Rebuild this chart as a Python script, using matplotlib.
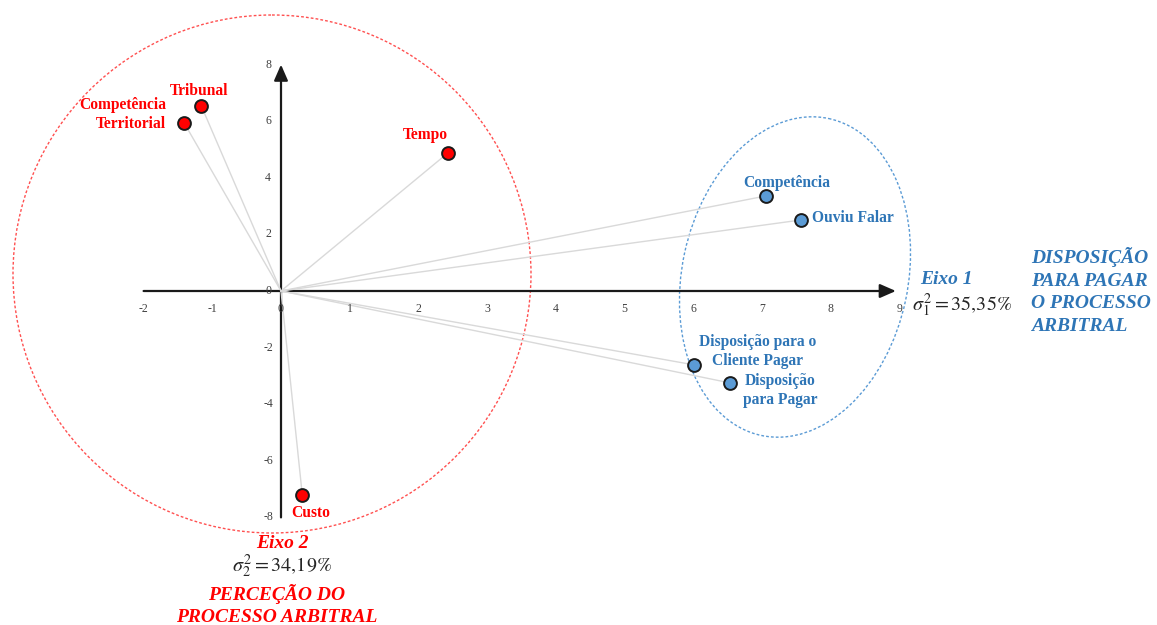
import matplotlib
matplotlib.use('Agg')
import matplotlib.pyplot as plt
from matplotlib.patches import Ellipse, FancyArrowPatch
from matplotlib.transforms import Affine2D

# --- data -------------------------------------------------------------
red_labels = ['Tribunal', 'Competência\nTerritorial', 'Tempo', 'Custo']
red_x = [-1.16, -1.41, 2.43, 0.31]
red_y = [6.54, 5.94, 4.88, -7.21]

blue_labels = ['Competência', 'Ouviu Falar',
               'Disposição para o\nCliente Pagar', 'Disposição\npara Pagar']
blue_x = [7.06, 7.57, 6.01, 6.54]
blue_y = [3.36, 2.51, -2.61, -3.25]

x_ticks = [-2, -1, 0, 1, 2, 3, 4, 5, 6, 7, 8, 9]
y_ticks = [-8, -6, -4, -2, 0, 2, 4, 6, 8]

var_axis1 = '35{,}35'
var_axis2 = '34{,}19'

# --- layout -----------------------------------------------------------
W, H = 1157, 625
X0, Y0 = 281, 291          # origin position (pixels from top-left)
SX, SY = 68.7, 28.3        # pixels per unit on each axis

RED = '#FF0000'
BLUE = '#2E75B6'
BLUE_FILL = '#5B9BD5'
SERIF = ['Liberation Serif', 'DejaVu Serif']

plt.rcParams['mathtext.fontset'] = 'stix'

fig = plt.figure(figsize=(W / 100, H / 100), dpi=100)
ax = fig.add_axes([0, 0, 1, 1])
ax.set_xlim(-X0 / SX, (W - X0) / SX)
ax.set_ylim((Y0 - H) / SY, Y0 / SY)
ax.axis('off')

# pixel-space helper (y downwards) for the grouping outlines and titles
pix = Affine2D().translate(-X0, -Y0).scale(1 / SX, -1 / SY) + ax.transData

# grouping outlines
ax.add_patch(Ellipse((272, 274), 2 * 259, 2 * 259, transform=pix, fill=False,
                     ec='#FF5050', lw=1.0, ls=(0, (2, 1.5)), zorder=1))
ax.add_patch(Ellipse((795, 277), 2 * 113, 2 * 162, angle=12, transform=pix,
                     fill=False, ec='#5B9BD5', lw=1.0, ls=(0, (2, 1.5)), zorder=1))

# axes with arrow heads
axis_kw = dict(arrowstyle='-|>,head_length=0.8,head_width=0.35',
               color='#1A1A1A', lw=1.6, mutation_scale=12,
               shrinkA=0, shrinkB=0, zorder=2)
ax.add_patch(FancyArrowPatch((x_ticks[0], 0), (x_ticks[-1] - 0.05, 0), **axis_kw))
ax.add_patch(FancyArrowPatch((0, y_ticks[0]), (0, y_ticks[-1]), **axis_kw))

tick_kw = dict(fontsize=8.5, color='#404040', family=SERIF)
for v in x_ticks:
    ax.annotate(str(v), (v, 0), xytext=(0, -18), textcoords='offset pixels',
                ha='center', va='center', **tick_kw)
for v in y_ticks:
    ax.annotate(str(v), (0, v), xytext=(-13, 0), textcoords='offset pixels',
                ha='center', va='center', **tick_kw)

# spokes from the origin
for xs, ys in ((red_x, red_y), (blue_x, blue_y)):
    for x, y in zip(xs, ys):
        ax.plot([0, x], [0, y], color='#D9D9D9', lw=1.0, zorder=2)

# points
ax.scatter(red_x, red_y, s=85, c=RED, edgecolors='#1A1A1A', linewidths=1.4, zorder=4)
ax.scatter(blue_x, blue_y, s=85, c=BLUE_FILL, edgecolors='#1A1A1A', linewidths=1.4, zorder=4)

lab_kw = dict(fontsize=11.2, fontweight='bold', family=SERIF,
              textcoords='offset pixels', linespacing=1.25, zorder=5)
red_off = [(-2, 15, 'center'), (-18, 8, 'right'), (-23, 18, 'center'), (8, -18, 'center')]
blue_off = [(21, 13, 'center'), (11, 2, 'left'), (64, 13, 'center'), (50, -8, 'center')]
for lab, x, y, (dx, dy, ha) in zip(red_labels, red_x, red_y, red_off):
    ax.annotate(lab, (x, y), xytext=(dx, dy), ha=ha, va='center',
                multialignment=ha, color=RED, **lab_kw)
for lab, x, y, (dx, dy, ha) in zip(blue_labels, blue_x, blue_y, blue_off):
    ax.annotate(lab, (x, y), xytext=(dx, dy), ha=ha, va='center',
                multialignment=ha, color=BLUE, **lab_kw)

# axis titles and explained variance
ttl_kw = dict(fontsize=14, fontweight='bold', style='italic', family=SERIF,
              transform=pix, linespacing=1.45)
ax.text(946, 280, 'Eixo 1', ha='center', va='center', color=BLUE, **ttl_kw)
ax.text(962, 305, r'$\sigma_1^2 = %s\%%$' % var_axis1, ha='center', va='center',
        fontsize=14.5, color='#262626', transform=pix)
ax.text(1031, 291, 'DISPOSIÇÃO\nPARA PAGAR\nO PROCESSO\nARBITRAL', ha='left',
        va='center', color=BLUE, **ttl_kw)

ax.text(282, 543, 'Eixo 2', ha='center', va='center', color=RED, **ttl_kw)
ax.text(282, 566, r'$\sigma_2^2 = %s\%%$' % var_axis2, ha='center', va='center',
        fontsize=14.5, color='#262626', transform=pix)
ax.text(277, 605, 'PERCEÇÃO DO\nPROCESSO ARBITRAL', ha='center', va='center',
        color=RED, **ttl_kw)

fig.savefig('out.png', dpi=100, facecolor='white')
